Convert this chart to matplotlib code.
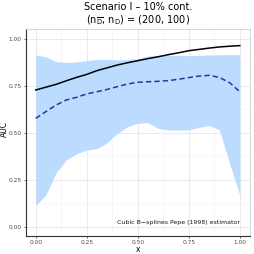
import matplotlib
matplotlib.use("Agg")
import matplotlib.pyplot as plt
import numpy as np

x = [0.0, 0.05, 0.1, 0.15, 0.2, 0.25, 0.3, 0.35, 0.4, 0.45, 0.5,
     0.55, 0.6, 0.65, 0.7, 0.75, 0.8, 0.85, 0.9, 0.95, 1.0]
upper = [0.913, 0.904, 0.878, 0.872, 0.876, 0.883, 0.89, 0.89, 0.887, 0.89, 0.894,
         0.908, 0.911, 0.911, 0.912, 0.91, 0.912, 0.913, 0.915, 0.915, 0.915]
lower = [0.112, 0.168, 0.287, 0.355, 0.387, 0.408, 0.415, 0.447, 0.496, 0.532, 0.55,
         0.553, 0.523, 0.514, 0.514, 0.514, 0.528, 0.539, 0.514, 0.337, 0.168]
true_auc = [0.727, 0.742, 0.757, 0.776, 0.794, 0.81, 0.83, 0.845, 0.86, 0.872, 0.883,
            0.894, 0.904, 0.915, 0.925, 0.936, 0.943, 0.95, 0.956, 0.96, 0.963]
est_auc = [0.576, 0.612, 0.647, 0.674, 0.688, 0.706, 0.718, 0.73, 0.745, 0.759, 0.768,
           0.771, 0.773, 0.777, 0.784, 0.793, 0.801, 0.805, 0.794, 0.766, 0.718]

fig = plt.figure(figsize=(2.54, 2.54), dpi=100)
ax = fig.add_axes([25.5/254, 1-236/254, (250-25.5)/254, (236-29.3)/254])

ax.fill_between(x, lower, upper, color="#bbdcff", linewidth=0, zorder=2)
ax.plot(x, true_auc, color="black", lw=1.1, zorder=3)
ax.plot(x, est_auc, color="#2436a8", lw=1.1, ls=(0, (3.5, 2)), zorder=3)

ax.set_xlim(-0.05, 1.05)
ax.set_ylim(-0.05, 1.05)
ticks = [0.0, 0.25, 0.5, 0.75, 1.0]
ax.set_xticks(ticks)
ax.set_yticks(ticks)
ax.set_xticklabels(["0.00", "0.25", "0.50", "0.75", "1.00"])
ax.set_yticklabels(["0.00", "0.25", "0.50", "0.75", "1.00"])
ax.set_xticks([0.125, 0.375, 0.625, 0.875], minor=True)
ax.set_yticks([0.125, 0.375, 0.625, 0.875], minor=True)
ax.grid(True, which="major", color="#e6e6e6", lw=0.6, zorder=0)
ax.grid(True, which="minor", color="#f2f2f2", lw=0.4, zorder=0)
ax.tick_params(which="minor", length=0)
ax.tick_params(which="major", labelsize=4.2, labelcolor="#4d4d4d", color="#333333",
               length=1.6, width=0.5, pad=1.0)
for s in ["top", "right"]:
    ax.spines[s].set_color("#d0d0d0")
    ax.spines[s].set_linewidth(0.6)
for s in ["left", "bottom"]:
    ax.spines[s].set_color("#333333")
    ax.spines[s].set_linewidth(0.8)
ax.set_axisbelow(True)

fig.text(138/254, 1-249/254, "x", fontsize=5.5, ha="center", va="center")
fig.text(4.5/254, 1-129/254, "AUC", fontsize=5.5, ha="center", va="center", rotation=90)

ax.text(0.70, 0.02, "Cubic B\u2212splines Pepe (1998) estimator", fontsize=4.5,
        ha="center", va="center", color="#1a1a1a")

fig.text(138/254, 1-7/254, "Scenario I \u2013 10% cont.", fontsize=7, ha="center", va="center")
fig.text(138/254, 1-20/254, r"(n$_{\overline{\mathrm{D}}}$, n$_{\mathrm{D}}$) = (200, 100)",
         fontsize=7, ha="center", va="center")

fig.savefig("out.png", dpi=100)
